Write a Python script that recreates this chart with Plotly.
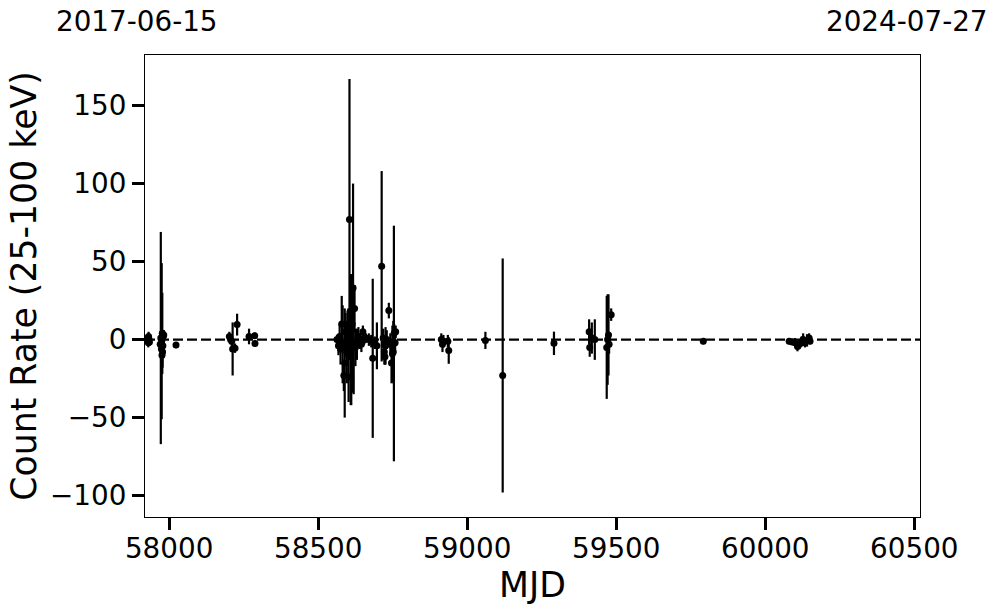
import plotly.graph_objects as go

# ---- data ----
mjd = [
    57928, 57930, 57931, 57932, 57934,
    57970, 57972, 57974, 57975, 57976, 57977, 57978, 57979, 57980, 57982, 58023,
    58202, 58206, 58210, 58213, 58221, 58228, 58268, 58287, 58288,
    58563, 58568, 58572, 58575, 58579, 58582, 58586, 58589, 58592, 58596,
    58599, 58602, 58605, 58607, 58609, 58611, 58614, 58617, 58619, 58622,
    58625, 58630, 58635, 58640, 58645, 58650, 58655, 58660, 58670, 58678,
    58683, 58690, 58697, 58713, 58718, 58722, 58724, 58726, 58730, 58737,
    58742, 58746, 58749, 58752, 58754, 58755, 58758, 58760,
    58913, 58917, 58920, 58935, 58938, 59061, 59119, 59291,
    59409, 59411, 59418, 59428, 59468, 59471, 59474, 59476, 59483,
    59792,
    60080, 60090, 60100, 60108, 60115, 60122, 60127, 60133, 60140, 60147, 60150,
]
rate = [
    1, -2, 2, 0.5, -1.5,
    -3, 1, -6, -1, -10, 4, -8, -4, 2, 3, -3.5,
    2, 0, -1, -6, -5.5, 9.6, 2, 2.5, -2.5,
    0, -4, 2, -6, 10, -3, -23, -15, 5, -8,
    3, -10, 77, 18, -24, 0, 10, 33, -2, 20,
    -5, -3, 2, -1, -3, 5, 0, 1, 0, -1,
    -12, -2, -4, 47, 1, -8, -11, -4, 0, 18.6,
    -3, -15, -9, -8, -2.5, 4, -2, 5,
    0, -3, -1, -1, -7, -0.5, -23, -2.4,
    5, -5, 1, 0, -5, 0, 3, -3, 16,
    -1,
    -1, -1.5, -2, -4.5, -3, -1, 0, -2, -0.5, 1, -1,
]
err = [
    2.5, 3, 3, 2, 2.5,
    5, 68, 8, 50, 6, 26, 10, 5, 4, 3, 2,
    3, 3, 3, 17, 3, 7, 5, 2, 2,
    3, 6, 8, 10, 18, 25, 10, 35, 12, 20,
    15, 30, 90, 24, 18, 42, 22, 67, 33, 15,
    12, 10, 6, 5, 5, 4, 3, 3, 4, 4,
    51, 4, 15, 61, 6, 8, 5, 12, 6, 5,
    7, 13, 18, 20, 75.5, 6, 5, 4,
    4, 5, 4, 4, 8.5, 5.5, 75, 7.5,
    8, 6, 10, 13, 33, 29, 26, 6, 4,
    2,
    2, 2, 3, 3, 3, 3, 4, 3, 4, 3, 2,
]

x_ticks = [58000, 58500, 59000, 59500, 60000, 60500]
x_tick_labels = ["58000", "58500", "59000", "59500", "60000", "60500"]
y_ticks = [-100, -50, 0, 50, 100, 150]
y_tick_labels = ["\u2212100", "\u221250", "0", "50", "100", "150"]
x_range = [57919, 60519]
y_range = [-113.7, 182.4]
start_label = "2017-06-15"
end_label = "2024-07-27"

FONT = "DejaVu Sans"
TICK_PX = 27.8
TITLE_PX = 34.7

fig = go.Figure()
fig.add_trace(go.Scatter(
    x=mjd, y=rate, mode="markers",
    marker=dict(color="black", size=7),
    error_y=dict(type="data", array=err, visible=True, color="black",
                 thickness=2.2, width=0),
    showlegend=False,
))

# dashed zero line
fig.add_shape(type="line", xref="paper", x0=0, x1=1, yref="y", y0=0, y1=0,
              line=dict(color="black", width=2.2, dash="10px,4px"), layer="above")

axis_common = dict(
    showgrid=False, zeroline=False, showline=True, mirror=True,
    linecolor="black", linewidth=1.2,
    ticks="outside", ticklen=12, tickwidth=2.5, tickcolor="black",
    tickfont=dict(family=FONT, size=TICK_PX, color="black"),
)

fig.update_layout(
    width=997, height=613,
    margin=dict(l=145, r=77, t=55, b=96),
    paper_bgcolor="white", plot_bgcolor="white",
    font=dict(family=FONT, color="black"),
    xaxis=dict(range=x_range, tickmode="array", tickvals=x_ticks, ticktext=x_tick_labels,
               ticklabelstandoff=-5,
               title=dict(text="MJD", font=dict(family=FONT, size=TITLE_PX), standoff=4),
               **axis_common),
    yaxis=dict(range=y_range, tickmode="array", tickvals=y_ticks, ticktext=y_tick_labels,
               title=dict(text="Count Rate (25-100 keV)", font=dict(family=FONT, size=TITLE_PX),
                          standoff=2),
               **axis_common),
)

fig.add_annotation(text=start_label, xref="paper", yref="paper",
                   x=(54 - 145) / 775, y=(516 - 22) / 461, xanchor="left", yanchor="middle",
                   showarrow=False, font=dict(family=FONT, size=TICK_PX, color="black"))
fig.add_annotation(text=end_label, xref="paper", yref="paper",
                   x=(990 - 145) / 775, y=(516 - 22) / 461, xanchor="right", yanchor="middle",
                   showarrow=False, font=dict(family=FONT, size=TICK_PX, color="black"))

fig.write_html("out.html", config={"displayModeBar": False},
               post_script="document.body.style.margin='0';document.body.style.padding='0';")
